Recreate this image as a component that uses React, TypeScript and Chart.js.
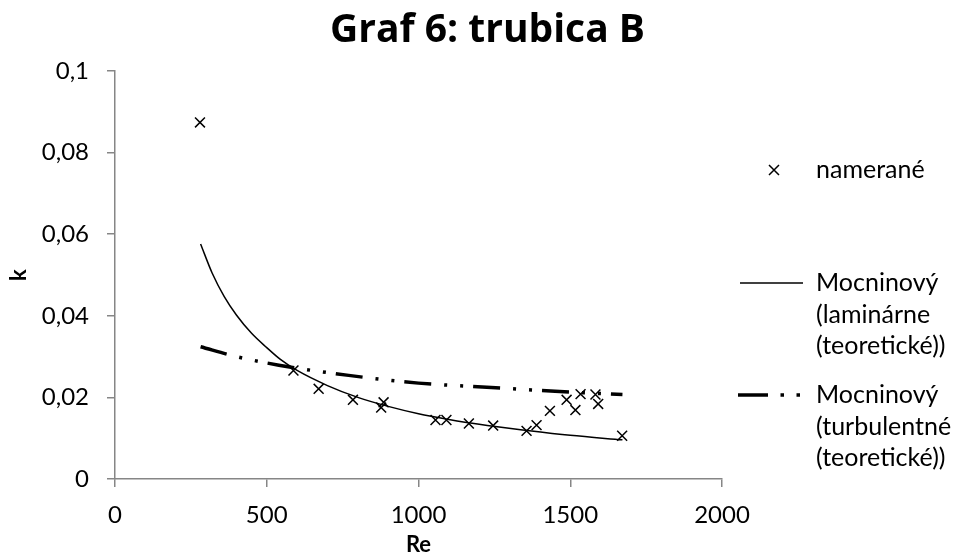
import React, { useEffect, useRef } from "react";
import { Chart, registerables } from "chart.js";

Chart.register(...registerables);

const chartTitle = "Graf 6: trubica B";
const xAxisTitle = "Re";
const yAxisTitle = "k";

const xTickValues = [0, 500, 1000, 1500, 2000];
const xTickLabels = ["0", "500", "1000", "1500", "2000"];
const yTickValues = [0, 0.02, 0.04, 0.06, 0.08, 0.1];
const yTickLabels = ["0", "0,02", "0,04", "0,06", "0,08", "0,1"];

const measuredLabel = "namerané";
const measuredRe = [280, 588, 671, 784, 877, 885, 1056, 1092, 1166, 1246, 1356, 1389, 1433, 1488, 1517, 1534, 1583, 1592, 1671];
const measuredK = [0.0874, 0.0266, 0.0221, 0.0194, 0.0175, 0.0188, 0.01445, 0.01445, 0.0136, 0.0131, 0.0118, 0.0132, 0.0167, 0.0194, 0.0169, 0.0208, 0.0207, 0.0184, 0.0106];

const laminarLabel = "Mocninový (laminárne (teoretické))";
const laminarRe = [282, 320, 360, 400, 450, 500, 545, 600, 700, 800, 900, 1000, 1100, 1200, 1358, 1500, 1672];
const laminarK = [0.0576, 0.0505, 0.0447, 0.0402, 0.0357, 0.0322, 0.0293, 0.0266, 0.0229, 0.02, 0.0178, 0.016, 0.0146, 0.0134, 0.0119, 0.0107, 0.0096];

const turbulentLabel = "Mocninový (turbulentné (teoretické))";
const turbulentRe = [282, 400, 540, 770, 1000, 1225, 1450, 1672];
const turbulentK = [0.0324, 0.03, 0.0279, 0.0254, 0.0235, 0.0225, 0.0215, 0.0207];

const FONT = "Lato, 'Open Sans', sans-serif";
const TITLE_FONT = "'Open Sans', Lato, sans-serif";
const AXIS_COLOR = "#868686";

const toPoints = (xs: number[], ys: number[]) => xs.map((x, i) => ({ x, y: ys[i] }));

const titlePlugin = {
  id: "centeredTitle",
  afterDraw(chart: any) {
    const { ctx, width } = chart;
    ctx.save();
    ctx.fillStyle = "#000";
    ctx.font = `bold 39px ${TITLE_FONT}`;
    ctx.textAlign = "center";
    ctx.textBaseline = "alphabetic";
    ctx.fillText(chartTitle, width / 2 + 10, 42);
    ctx.restore();
  },
};

const legendPlugin = {
  id: "sideLegend",
  afterDraw(chart: any) {
    const { ctx, chartArea } = chart;
    const left = chartArea.right;
    const textX = left + 94;
    const lineGap = 31.5;
    const entries = [
      { y: 170, kind: "cross", text: measuredLabel },
      { y: 283, kind: "solid", text: laminarLabel },
      { y: 395, kind: "dashdotdot", text: turbulentLabel },
    ];
    ctx.save();
    ctx.fillStyle = "#000";
    ctx.strokeStyle = "#000";
    ctx.font = `25px ${FONT}`;
    ctx.textBaseline = "middle";
    ctx.textAlign = "left";
    for (const e of entries) {
      if (e.kind === "cross") {
        const cx = left + 52;
        const r = 5;
        ctx.lineWidth = 1.5;
        ctx.beginPath();
        ctx.moveTo(cx - r, e.y - r);
        ctx.lineTo(cx + r, e.y + r);
        ctx.moveTo(cx + r, e.y - r);
        ctx.lineTo(cx - r, e.y + r);
        ctx.stroke();
      } else if (e.kind === "solid") {
        ctx.lineWidth = 1.5;
        ctx.beginPath();
        ctx.moveTo(left + 18, e.y);
        ctx.lineTo(left + 81, e.y);
        ctx.stroke();
      } else {
        ctx.lineWidth = 3.5;
        ctx.beginPath();
        ctx.moveTo(left + 16, e.y);
        ctx.lineTo(left + 46, e.y);
        ctx.stroke();
        ctx.fillRect(left + 58.5, e.y - 1.75, 3.5, 3.5);
        ctx.fillRect(left + 74.5, e.y - 1.75, 3.5, 3.5);
      }
      const lines = e.text.split(" ");
      lines.forEach((line, i) => {
        ctx.fillText(line, textX, e.y + i * lineGap);
      });
    }
    ctx.restore();
  },
};

export default function App() {
  const canvasRef = useRef<HTMLCanvasElement | null>(null);

  useEffect(() => {
    document.body.style.margin = "0";
    const canvas = canvasRef.current;
    if (!canvas) return;
    const axisGrid = {
      display: true,
      drawOnChartArea: false,
      drawTicks: true,
      tickLength: 8,
      color: AXIS_COLOR,
      lineWidth: 1.5,
    };
    const chart = new Chart(canvas, {
      type: "scatter",
      data: {
        datasets: [
          {
            label: laminarLabel,
            data: toPoints(laminarRe, laminarK),
            showLine: true,
            borderColor: "#000",
            borderWidth: 1.5,
            pointRadius: 0,
            cubicInterpolationMode: "monotone",
            order: 2,
          },
          {
            label: turbulentLabel,
            data: toPoints(turbulentRe, turbulentK),
            showLine: true,
            borderColor: "#000",
            borderWidth: 3.5,
            borderDash: [27, 13, 3, 13, 3, 10],
            borderCapStyle: "butt",
            pointRadius: 0,
            cubicInterpolationMode: "monotone",
            order: 3,
          },
          {
            label: measuredLabel,
            data: toPoints(measuredRe, measuredK),
            showLine: false,
            pointStyle: "crossRot",
            pointRadius: 7,
            pointBorderWidth: 1.5,
            borderColor: "#000",
            backgroundColor: "#000",
            order: 1,
          },
        ],
      },
      options: {
        animation: false,
        responsive: false,
        devicePixelRatio: 1,
        layout: { padding: { left: 0, right: 233, top: 71, bottom: 0 } },
        plugins: {
          legend: { display: false },
          tooltip: { enabled: false },
          title: { display: false },
        },
        scales: {
          x: {
            type: "linear",
            min: 0,
            max: 2000,
            afterBuildTicks: (scale: any) => {
              scale.ticks = xTickValues.map((value) => ({ value }));
            },
            afterFit: (scale: any) => {
              scale.height = 79;
            },
            ticks: {
              callback: (_v: any, i: number) => xTickLabels[i],
              color: "#000",
              font: { family: FONT, size: 24 },
              padding: 14,
              maxRotation: 0,
            },
            grid: axisGrid,
            border: { display: true, color: AXIS_COLOR, width: 1.5 },
            title: {
              display: true,
              text: xAxisTitle,
              color: "#000",
              font: { family: FONT, size: 22, weight: "bold" },
              padding: { top: 0, bottom: 0 },
            },
          },
          y: {
            type: "linear",
            min: 0,
            max: 0.1,
            afterBuildTicks: (scale: any) => {
              scale.ticks = yTickValues.map((value) => ({ value }));
            },
            afterFit: (scale: any) => {
              scale.width = 115;
            },
            ticks: {
              callback: (_v: any, i: number) => yTickLabels[i],
              color: "#000",
              font: { family: FONT, size: 24 },
              padding: 18,
            },
            grid: axisGrid,
            border: { display: true, color: AXIS_COLOR, width: 1.5 },
            title: {
              display: true,
              text: yAxisTitle,
              color: "#000",
              font: { family: FONT, size: 22, weight: "bold" },
              padding: { top: 6, bottom: 0 },
            },
          },
        },
      },
      plugins: [titlePlugin, legendPlugin],
    } as any);
    return () => chart.destroy();
  }, []);

  return (
    <div style={{ width: 955, height: 558, background: "#fff" }}>
      <canvas ref={canvasRef} width={955} height={558} />
    </div>
  );
}
